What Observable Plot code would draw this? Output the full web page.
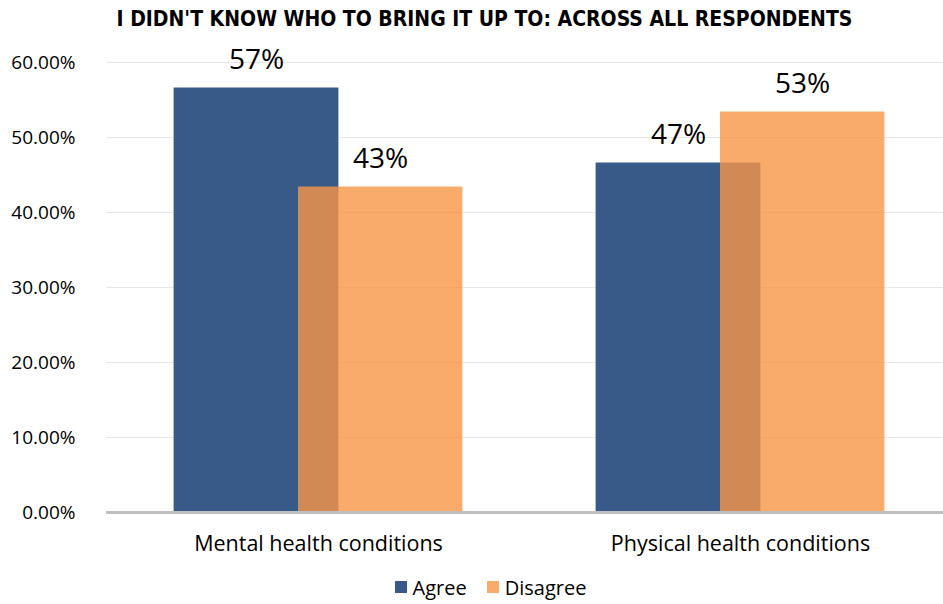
<!DOCTYPE html>
<html>
<head>
<meta charset="utf-8">
<script src="https://cdn.jsdelivr.net/npm/d3@7"></script>
<script src="https://cdn.jsdelivr.net/npm/@observablehq/plot@0.6"></script>
<style>
  body { margin: 0; background: #fff; width: 943px; height: 604px; overflow: hidden; font-family: "Open Sans", sans-serif; }
  #title { height: 40px; line-height: 38px; text-align: center; padding-left: 26px; font-family: "Liberation Sans Narrow", "DejaVu Sans Condensed", sans-serif; font-weight: bold; font-size: 21px; color: #000; white-space: nowrap; }
  #legend { display: flex; justify-content: center; align-items: center; gap: 20px; padding-left: 38px; font-size: 20px; color: #000; height: 34px; }
  .item { display: flex; align-items: center; gap: 6px; }
  .sw { width: 12px; height: 12px; display: inline-block; }
</style>
</head>
<body>
<div id="title">I DIDN'T KNOW WHO TO BRING IT UP TO: ACROSS ALL RESPONDENTS</div>
<div id="chart"></div>
<div id="legend"></div>
<script>
const categories = ["Mental health conditions", "Physical health conditions"];
const series = ["Agree", "Disagree"];
const agree = [0.566, 0.466];
const disagree = [0.434, 0.534];
const yTicks = [0, 0.1, 0.2, 0.3, 0.4, 0.5, 0.6];
const colors = ["#385a89", "#f79646"];

const agreeRows = categories.map((c, i) => ({category: c, series: "Agree", value: agree[i]}));
const disagreeRows = categories.map((c, i) => ({category: c, series: "Disagree", value: disagree[i]}));

const fontFamily = "'Open Sans', sans-serif";

const chart = Plot.plot({
  width: 943,
  height: 530,
  marginLeft: 106,
  marginRight: 0,
  marginTop: 22,
  marginBottom: 58,
  style: {fontFamily, fontSize: "18px", color: "#000", background: "#fff"},
  x: {domain: categories, range: [106, 951], padding: 0, label: null},
  y: {domain: [0, 0.6], label: null},
  color: {domain: series, range: colors},
  marks: [
    Plot.ruleY(yTicks.filter(d => d > 0), {stroke: "#e6e6e6", strokeWidth: 1.2}),
    Plot.axisY({ticks: yTicks, tickFormat: d => (d * 100).toFixed(2) + "%", tickSize: 0, tickPadding: 31, fontSize: 19, label: null}),
    Plot.axisX({tickSize: 0, tickPadding: 23, fontSize: 21.5, label: null}),
    Plot.barY(agreeRows, {x: "category", y: "value", fill: "series", insetLeft: 66.6, insetRight: 190.6}),
    Plot.barY(disagreeRows, {x: "category", y: "value", fill: "series", fillOpacity: 0.8, insetLeft: 191, insetRight: 66.6}),
    Plot.ruleY([0], {stroke: "#bfbfbf", strokeWidth: 3}),
    Plot.text(agreeRows, {x: "category", y: "value", text: d => Math.round(d.value * 100) + "%", dx: -62, dy: -28, fontSize: 28, fill: "#000"}),
    Plot.text(disagreeRows, {x: "category", y: "value", text: d => Math.round(d.value * 100) + "%", dx: 62, dy: -28, fontSize: 28, fill: "#000"})
  ]
});
document.getElementById("chart").appendChild(chart);

const legend = document.getElementById("legend");
series.forEach((s, i) => {
  const item = document.createElement("span");
  item.className = "item";
  const sw = document.createElement("span");
  sw.className = "sw";
  sw.style.background = colors[i];
  sw.style.opacity = i === 1 ? 0.8 : 1;
  const t = document.createElement("span");
  t.textContent = s;
  item.appendChild(sw);
  item.appendChild(t);
  legend.appendChild(item);
});
</script>
</body>
</html>
